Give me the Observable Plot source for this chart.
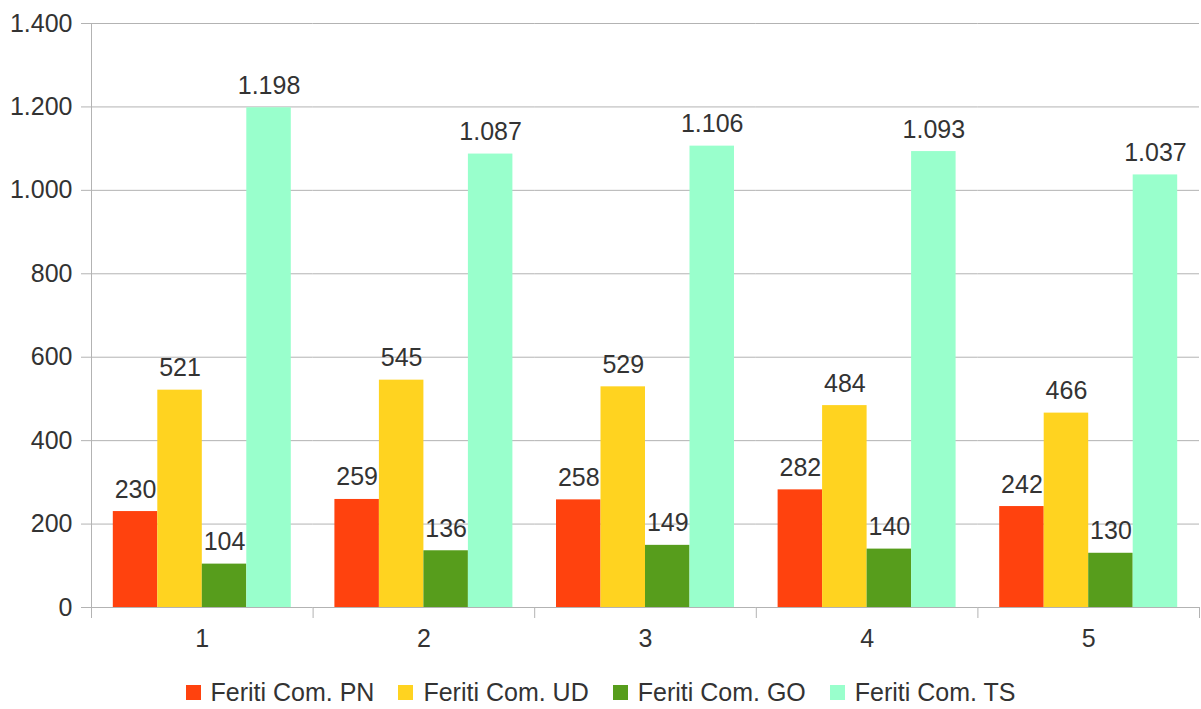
<!DOCTYPE html>
<html>
<head>
<meta charset="utf-8">
<script src="https://cdn.jsdelivr.net/npm/d3@7"></script>
<script src="https://cdn.jsdelivr.net/npm/@observablehq/plot@0.6"></script>
<style>
  html, body { margin: 0; padding: 0; background: #fff; }
  body { width: 1201px; height: 709px; overflow: hidden; font-family: "Liberation Sans", Arial, sans-serif; }
  #chart svg { display: block; }
  #legend { height: 44px; display: flex; justify-content: center; align-items: center; gap: 24px; font-size: 25px; color: #333; }
  #legend .item { display: flex; align-items: center; gap: 10px; }
  #legend .sw { width: 15px; height: 15px; display: inline-block; }
</style>
</head>
<body>
<div id="chart"></div>
<div id="legend"></div>
<script>
const categories = ["1", "2", "3", "4", "5"];
const series = ["Feriti Com. PN", "Feriti Com. UD", "Feriti Com. GO", "Feriti Com. TS"];
const valuesPN = [230, 259, 258, 282, 242];
const valuesUD = [521, 545, 529, 484, 466];
const valuesGO = [104, 136, 149, 140, 130];
const valuesTS = [1198, 1087, 1106, 1093, 1037];
const colors = ["#ff420e", "#ffd320", "#579d1c", "#99ffcc"];
const yTicks = [0, 200, 400, 600, 800, 1000, 1200, 1400];

const allValues = [valuesPN, valuesUD, valuesGO, valuesTS];
const data = [];
categories.forEach((c, i) => {
  series.forEach((s, j) => data.push({cat: c, series: s, value: allValues[j][i]}));
});

const locale = d3.formatLocale({decimal: ",", thousands: ".", grouping: [3], currency: ["", "€"]});
const fmt = locale.format(",");

const W = 1201, H = 670, mT = 23, mB = 63, mL = 91, mR = 2;
const plotH = H - mT - mB;
const grid = "#b3b3b3";
const txt = "#333333";
const font = "Liberation Sans, Arial, sans-serif";

const chart = Plot.plot({
  width: W, height: H,
  marginTop: mT, marginBottom: mB, marginLeft: mL, marginRight: mR,
  style: {fontFamily: font, background: "#fff"},
  fx: {domain: categories, padding: 0, round: false, label: null, axis: null},
  x: {domain: series, paddingInner: 0, paddingOuter: 0.49, round: false, axis: null},
  y: {domain: [0, 1400], axis: null},
  color: {domain: series, range: colors},
  marks: [
    Plot.gridY(yTicks, {stroke: grid, strokeOpacity: 1, strokeWidth: 1}),
    Plot.frame({anchor: "left", stroke: grid, insetTop: plotH, insetBottom: -10}),
    Plot.frame({anchor: "right", stroke: grid, insetTop: plotH, insetBottom: -10, facetAnchor: "right"}),
    Plot.frame({anchor: "left", stroke: grid, insetBottom: -10, facetAnchor: "left"}),
    Plot.barY(data, {fx: "cat", x: "series", y: "value", fill: "series"}),
    Plot.text(data, {fx: "cat", x: "series", y: "value", text: d => fmt(d.value), lineAnchor: "bottom", dy: -14, fontSize: 25, fill: txt}),
    Plot.axisY(yTicks, {anchor: "left", tickSize: 10, tickPadding: 9, fontSize: 25, tickFormat: fmt, stroke: grid, fill: txt, label: null}),
    Plot.axisFx({anchor: "bottom", tickSize: 0, tickPadding: 22, fontSize: 25, fill: txt, label: null})
  ]
});
document.getElementById("chart").appendChild(chart);

const legend = document.getElementById("legend");
series.forEach((s, j) => {
  const item = document.createElement("div");
  item.className = "item";
  const sw = document.createElement("span");
  sw.className = "sw";
  sw.style.background = colors[j];
  const label = document.createElement("span");
  label.textContent = s;
  item.appendChild(sw);
  item.appendChild(label);
  legend.appendChild(item);
});
</script>
</body>
</html>
